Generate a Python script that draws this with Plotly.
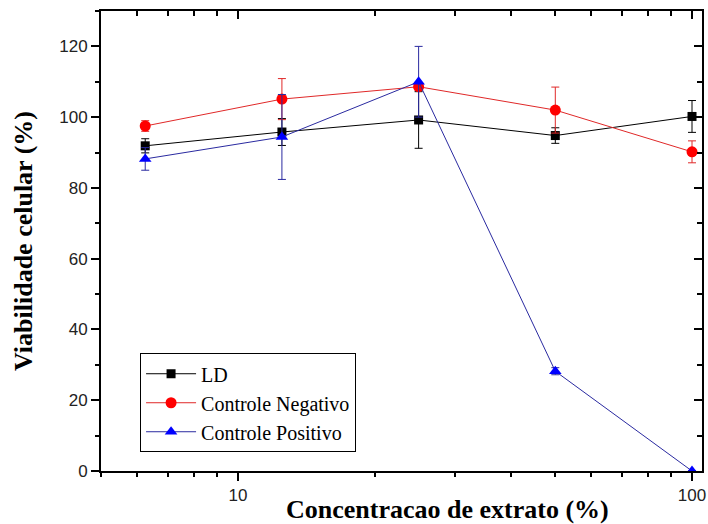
import plotly.graph_objects as go

conc = [6.25, 12.5, 25, 50, 100]
ld = [91.9, 95.8, 99.2, 94.8, 100.2]
ld_err = [2.0, 3.8, 8.0, 2.2, 4.5]
neg = [97.5, 105.1, 108.6, 102.0, 90.2]
neg_err = [1.5, 5.8, 1.0, 6.5, 3.1]
pos = [88.2, 94.4, 110.0, 28.2, 0.0]
pos_err = [3.2, 12.0, 10.0, 1.0, 0.0]

x_major = [10, 100]
x_minor = [5, 6, 7, 8, 9, 20, 30, 40, 50, 60, 70, 80, 90]
y_major = [0, 20, 40, 60, 80, 100, 120]
y_minor = [10, 30, 50, 70, 90, 110, 130]

x_title = "Concentracao de extrato (%)"
y_title = "Viabilidade celular (%)"

series = [
    ("LD", ld, ld_err, "#000000", "#000000", "square", 9),
    ("Controle Negativo", neg, neg_err, "#ff0000", "#e02828", "circle", 11),
    ("Controle Positivo", pos, pos_err, "#0000ff", "#2a2aa0", "triangle-up", 11),
]

fig = go.Figure()
for name, vals, err, col, lcol, sym, sz in series:
    fig.add_trace(go.Scatter(
        x=conc, y=vals, name=name, mode="lines+markers",
        line=dict(color=lcol, width=1),
        marker=dict(color=col, symbol=sym, size=sz),
        error_y=dict(type="data", array=err, visible=True, color=lcol, thickness=1, width=4),
    ))

for xa, ya in [("x2", "y2"), ("x3", "y3"), ("x4", "y4")]:
    fig.add_trace(go.Scatter(x=[10], y=[0], xaxis=xa, yaxis=ya, showlegend=False,
                             mode="markers", marker=dict(opacity=0), hoverinfo="skip"))

xr = [0.6985, 2.022]
yr = [0, 130]
serif = "Liberation Serif"
sans = "Liberation Sans"

base = dict(showgrid=False, zeroline=False, automargin=False, tickwidth=1.5, tickcolor="black")
line = dict(showline=True, linecolor="black", linewidth=2)
xbase = dict(type="log", range=xr, **base)
ybase = dict(range=yr, **base)

fig.update_layout(
    width=708, height=524,
    margin=dict(l=101, r=6, t=11, b=53),
    plot_bgcolor="white", paper_bgcolor="white",
    showlegend=True,
    legend=dict(x=0.065, y=0.256, xanchor="left", yanchor="top",
                bgcolor="white", bordercolor="#000000", borderwidth=1,
                font=dict(family=serif, size=20, color="#000000"),
                tracegroupgap=0, itemsizing="trace", itemwidth=50),
    annotations=[dict(text="<b>" + x_title + "</b>", xref="paper", yref="paper",
                      x=0.577, y=-0.083, xanchor="center", yanchor="middle", showarrow=False,
                      font=dict(family=serif, size=26, color="#000000"))],
    xaxis=dict(ticks="outside", ticklen=8, tickmode="array", tickvals=x_major,
               ticktext=[str(v) for v in x_major],
               tickfont=dict(family=sans, size=17, color="#222222"),
               **line, **xbase),
    yaxis=dict(ticks="outside", ticklen=8, tickmode="array", tickvals=y_major,
               tickfont=dict(family=sans, size=17, color="#222222"),
               title=dict(text="<b>" + y_title + "</b>", standoff=19,
                          font=dict(family=serif, size=26, color="#000000")),
               **line, **ybase),
    xaxis2=dict(overlaying="x", side="top", anchor="y2", ticks="inside", ticklen=8,
                tickmode="array", tickvals=x_major, showticklabels=False, **line, **xbase),
    yaxis2=dict(overlaying="y", side="right", anchor="x2", ticks="inside", ticklen=8,
                tickmode="array", tickvals=y_major, showticklabels=False, **line, **ybase),
    xaxis3=dict(overlaying="x", side="bottom", anchor="y3", ticks="outside", ticklen=5,
                tickmode="array", tickvals=x_minor, showticklabels=False, showline=False, **xbase),
    yaxis3=dict(overlaying="y", side="left", anchor="x3", ticks="outside", ticklen=5,
                tickmode="array", tickvals=y_minor, showticklabels=False, showline=False, **ybase),
    xaxis4=dict(overlaying="x", side="top", anchor="y4", ticks="inside", ticklen=5,
                tickmode="array", tickvals=x_minor, showticklabels=False, showline=False, **xbase),
    yaxis4=dict(overlaying="y", side="right", anchor="x4", ticks="inside", ticklen=5,
                tickmode="array", tickvals=y_minor, showticklabels=False, showline=False, **ybase),
)

fig.write_html("out.html", config={"displayModeBar": False},
               post_script="document.body.style.margin='0';")
